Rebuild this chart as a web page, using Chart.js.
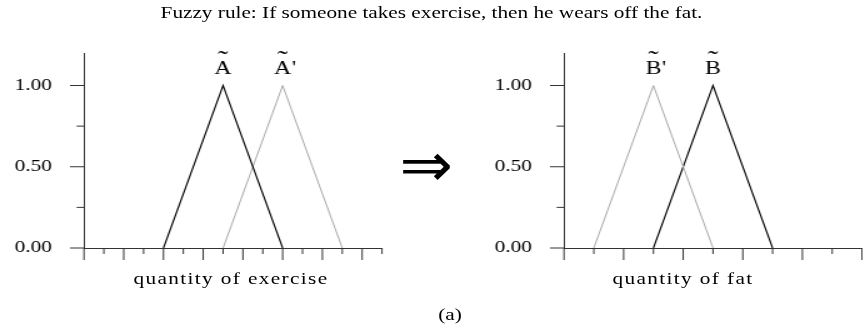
<!DOCTYPE html>
<html lang="en">
<head>
  <meta charset="UTF-8" />
  <title>Fuzzy rule</title>
  <script src="https://cdn.jsdelivr.net/npm/chart.js"></script>
  <style>
    body {
      margin: 0;
      background: #fff;
      overflow: hidden;
    }
    /* the whole figure is laid out narrow and stretched sideways */
    #figure {
      position: absolute;
      left: 0;
      top: 0;
      width: 690.4px;
      height: 332px;
      transform: scaleX(1.25);
      transform-origin: 0 0;
      font-family: 'Liberation Serif', 'Times New Roman', serif;
      color: #000;
    }
    .txt {
      position: absolute;
      font-size: 17px;
      line-height: 17px;
      white-space: nowrap;
      text-align: center;
    }
    #title { left: 0; width: 690.4px; top: 4.3px; }
    .axis-title { letter-spacing: 1.1px; width: 220px; top: 269.8px; }
    #caption { left: 310px; width: 100px; top: 305.8px; }
    #arrow {
      position: absolute;
      left: 300px;
      width: 82px;
      top: 136px;
      font-family: 'DejaVu Sans', sans-serif;
      font-size: 51px;
      line-height: 60px;
      text-align: center;
      transform: scaleY(1.2);
    }
    canvas { position: absolute; top: 0; }
    #left { left: 0; width: 330px; height: 300px; }
    #right { left: 330px; width: 360px; height: 300px; }
  </style>
</head>
<body>
<div id="figure">
  <div id="title" class="txt">Fuzzy rule: If someone takes exercise, then he wears off the fat.</div>
  <canvas id="left" width="330" height="300"></canvas>
  <div id="arrow">&rArr;</div>
  <canvas id="right" width="360" height="300"></canvas>
  <div class="txt axis-title" style="left:74.8px">quantity of exercise</div>
  <div class="txt axis-title" style="left:436.4px">quantity of fat</div>
  <div id="caption" class="txt">(a)</div>
</div>

<script>
  // membership grades at the three corners of every triangle
  const grade = [0, 1, 0];

  // quantity of exercise: A and A'
  const exerciseA = [4, 7, 10];
  const exerciseA2 = [7, 10, 13];

  // quantity of fat: B' and B
  const fatB2 = [1, 3, 5];
  const fatB = [3, 5, 7];

  const yTickValues = [0, 0.25, 0.5, 0.75, 1];
  const yTickLabels = ['0.00', '', '0.50', '', '1.00'];

  Chart.defaults.font.family = "'Liberation Serif', 'Times New Roman', serif";
  Chart.defaults.color = '#000';

  const AXIS = '#333';

  // tick marks: long on the major steps, short in between
  const tickMarks = {
    id: 'tickMarks',
    afterDraw(chart) {
      const { ctx } = chart;
      const xs = chart.scales.x, ys = chart.scales.y;
      ctx.save();
      ctx.strokeStyle = AXIS;
      ctx.lineWidth = 1;
      ctx.beginPath();
      xs.ticks.forEach(t => {
        const px = xs.getPixelForValue(t.value);
        const len = t.value % 2 === 0 ? 12 : 6;
        ctx.moveTo(px, xs.top);
        ctx.lineTo(px, xs.top + len);
      });
      ys.ticks.forEach(t => {
        const py = ys.getPixelForValue(t.value);
        const len = t.value % 0.5 === 0 ? 11.2 : 5.9;
        ctx.moveTo(ys.right - len, py);
        ctx.lineTo(ys.right, py);
      });
      ctx.stroke();
      ctx.restore();
    }
  };

  // fuzzy set names with a tilde over the letter, above each peak
  const peakLabels = {
    id: 'peakLabels',
    afterDatasetsDraw(chart, args, opts) {
      const { ctx } = chart;
      const xs = chart.scales.x, ys = chart.scales.y;
      ctx.save();
      ctx.fillStyle = '#000';
      ctx.textBaseline = 'alphabetic';
      opts.items.forEach(it => {
        const px = xs.getPixelForValue(it.x);
        const base = ys.getPixelForValue(1) - 12;
        ctx.textAlign = 'center';
        ctx.font = "19px 'Liberation Serif'";
        ctx.fillText(it.letter, px, base);
        const w = ctx.measureText(it.letter).width;
        if (it.prime) {
          ctx.textAlign = 'left';
          ctx.fillText("'", px + w / 2 + 0.5, base);
        }
        ctx.textAlign = 'center';
        ctx.font = "25px 'Liberation Serif'";
        ctx.fillText('\u02DC', px, base - 6);
      });
      ctx.restore();
    }
  };

  function tri(xs) {
    return xs.map((x, i) => ({ x, y: grade[i] }));
  }

  function makeChart(id, xMax, yAxisWidth, padRight, sets, labels) {
    return new Chart(document.getElementById(id), {
      type: 'line',
      data: {
        datasets: sets.map(s => ({
          data: tri(s.xs),
          borderColor: s.color,
          borderWidth: s.width,
          pointRadius: 0,
          tension: 0,
          fill: false,
          clip: false
        }))
      },
      options: {
        responsive: false,
        animation: false,
        layout: { padding: { top: 53, right: padRight, left: 0, bottom: 0 } },
        plugins: {
          legend: { display: false },
          tooltip: { enabled: false },
          peakLabels: { items: labels }
        },
        scales: {
          x: {
            type: 'linear',
            min: 0,
            max: xMax,
            grid: { display: false, drawTicks: false },
            border: { display: true, color: AXIS, width: 1 },
            ticks: { display: false, stepSize: 1 },
            afterFit: s => { s.height = 52; }
          },
          y: {
            min: 0,
            max: 1.2,
            grid: { display: false, drawTicks: false },
            border: { display: true, color: AXIS, width: 1 },
            ticks: {
              padding: 25.6,
              font: { size: 17 },
              callback: (v, i) => yTickLabels[i]
            },
            afterBuildTicks: s => { s.ticks = yTickValues.map(v => ({ value: v })); },
            afterFit: s => { s.width = yAxisWidth; }
          }
        }
      },
      plugins: [tickMarks, peakLabels]
    });
  }

  makeChart('left', 15, 67.2, 24.4, [
    { xs: exerciseA, color: '#000', width: 1.1 },
    { xs: exerciseA2, color: '#a8a8a8', width: 1 }
  ], [
    { letter: 'A', x: 7, prime: false },
    { letter: 'A', x: 10, prime: true }
  ]);

  makeChart('right', 10, 121.2, 0.4, [
    { xs: fatB2, color: '#a8a8a8', width: 1 },
    { xs: fatB, color: '#000', width: 1.1 }
  ], [
    { letter: 'B', x: 3, prime: true },
    { letter: 'B', x: 5, prime: false }
  ]);
</script>
</body>
</html>
